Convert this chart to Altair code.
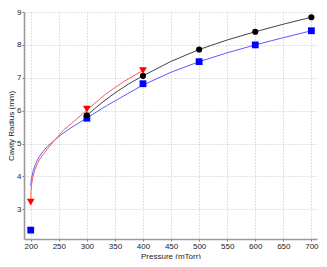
import altair as alt
import pandas as pd

# markers
black_p = [300, 400, 500, 600, 700]
black_r = [5.86, 7.06, 7.86, 8.40, 8.84]
blue_p = [200, 300, 400, 500, 600, 700]
blue_r = [2.37, 5.77, 6.82, 7.49, 8.00, 8.43]
red_p = [200, 300, 400]
red_r = [3.22, 6.05, 7.22]

# fitted curves
black_cp = [300, 325, 350, 375, 400, 450, 500, 550, 600, 650, 700]
black_cr = [5.86, 6.22, 6.54, 6.82, 7.06, 7.50, 7.86, 8.15, 8.40, 8.63, 8.84]
blue_cp = [200, 201, 204, 209, 215, 222, 230, 241, 255, 270, 285, 300, 335, 373, 400, 450, 500, 550, 600, 650, 700]
blue_cr = [3.72, 3.90, 4.15, 4.40, 4.60, 4.76, 4.92, 5.08, 5.28, 5.46, 5.62, 5.78, 6.15, 6.52, 6.78, 7.17, 7.49, 7.76, 8.00, 8.22, 8.43]
red_cp = [200, 200.5, 201.5, 203.5, 207, 212, 218, 230, 241, 259, 272, 300, 333, 367, 400]
red_cr = [3.27, 3.55, 3.75, 3.95, 4.19, 4.40, 4.58, 4.84, 5.07, 5.42, 5.60, 6.02, 6.50, 6.90, 7.22]

x_ticks = [200, 250, 300, 350, 400, 450, 500, 550, 600, 650, 700]
y_ticks = [3, 4, 5, 6, 7, 8, 9]

FONT = "Liberation Sans"

xs = alt.Scale(domain=[188, 710], nice=False, zero=False)
ys = alt.Scale(domain=[2.1, 9], nice=False, zero=False)

xax = alt.Axis(values=x_ticks, title="Pressure (mTorr)", grid=True)
yax = alt.Axis(values=y_ticks, title="Cavity Radius (mm)", grid=True, format="d")


def curve(px, py, color, width=1.0):
    df = pd.DataFrame({"p": px, "r": py})
    return alt.Chart(df).mark_line(color=color, strokeWidth=width, clip=True).encode(
        x=alt.X("p:Q", scale=xs, axis=xax),
        y=alt.Y("r:Q", scale=ys, axis=yax),
    )


def pts(px, py, color, shape, size):
    df = pd.DataFrame({"p": px, "r": py})
    return alt.Chart(df).mark_point(color=color, filled=True, opacity=1, shape=shape, size=size).encode(
        x=alt.X("p:Q", scale=xs, axis=xax),
        y=alt.Y("r:Q", scale=ys, axis=yax),
    )


chart = alt.layer(
    curve(blue_cp, blue_cr, "#5a5aff"),
    curve(red_cp, red_cr, "#ff5a5a"),
    curve(black_cp, black_cr, "#444444"),
    pts(blue_p, blue_r, "#0000ff", "square", 46),
    pts(black_p, black_r, "#000000", "circle", 38),
    pts(red_p, red_r, "#ff0000", "triangle-down", 60),
).properties(
    width=293, height=227,
    padding={"left": 16, "top": 4, "right": 2, "bottom": 20},
    autosize=alt.AutoSizeParams(type="none"),
).configure_view(
    stroke=None
).configure_axis(
    labelFont=FONT, titleFont=FONT, labelFontSize=8, titleFontSize=8,
    labelColor="#222", titleColor="#222", titleFontWeight="normal",
    domainColor="#9a9a9a", domainWidth=1.6,
    tickColor="#777", tickSize=2, labelPadding=1,
    gridColor="#c4c4c4", gridDash=[1, 2], gridWidth=1,
).configure_axisY(
    titlePadding=1
).configure_axisX(
    titlePadding=2
)

chart.save("out.html", embed_options={"renderer": "svg", "actions": False})
